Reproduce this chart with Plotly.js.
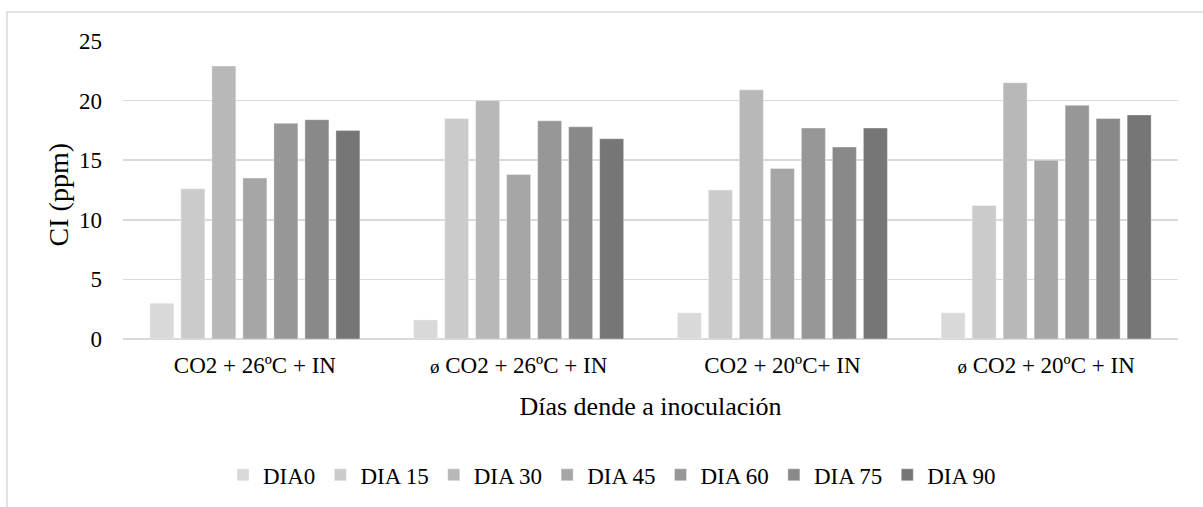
<!DOCTYPE html>
<html>
<head>
<meta charset="utf-8">
<script src="https://cdn.plot.ly/plotly-3.0.1.min.js"></script>
<style>
  html, body { margin: 0; padding: 0; background: #ffffff; }
  #chart { width: 1203px; height: 507px; }
</style>
</head>
<body>
<div id="chart"></div>
<script>
// Treatments (x categories)
const treatments = [
  "CO2 + 26ºC + IN",
  "<span style=\"font-size:19px\">ø</span> CO2 + 26ºC + IN",
  "CO2 + 20ºC+ IN",
  "<span style=\"font-size:19px\">ø</span> CO2 + 20ºC + IN"
];

// Sampling days (series)
const days = ["DIA0", "DIA 15", "DIA 30", "DIA 45", "DIA 60", "DIA 75", "DIA 90"];

// CI (ppm) per day, one value per treatment
const dia0  = [3.0, 1.6, 2.2, 2.2];
const dia15 = [12.6, 18.5, 12.5, 11.2];
const dia30 = [22.9, 20.0, 20.9, 21.5];
const dia45 = [13.5, 13.8, 14.3, 15.0];
const dia60 = [18.1, 18.3, 17.7, 19.6];
const dia75 = [18.4, 17.8, 16.1, 18.5];
const dia90 = [17.5, 16.8, 17.7, 18.8];

const seriesValues = [dia0, dia15, dia30, dia45, dia60, dia75, dia90];
const greys = ["#d9d9d9", "#cbcbcb", "#b8b8b8", "#a6a6a6", "#979797", "#898989", "#767676"];

const serif = "'Liberation Serif', 'Times New Roman', serif";

const traces = days.map((d, i) => ({
  type: "bar",
  name: d,
  x: treatments,
  y: seriesValues[i],
  marker: { color: greys[i], line: { color: "rgba(255,255,255,0.35)", width: 1 } },
  hoverinfo: "name+y"
}));

const layout = {
  width: 1203,
  height: 507,
  margin: { l: 123, r: 25, t: 41, b: 167 },
  paper_bgcolor: "#ffffff",
  plot_bgcolor: "#ffffff",
  font: { family: serif, color: "#000000", size: 23 },
  barmode: "group",
  bargap: 0.177,
  bargroupgap: 0.226,
  showlegend: true,
  legend: {
    orientation: "h",
    x: 0.4635, xanchor: "center",
    y: -0.451, yanchor: "middle",
    font: { family: serif, size: 23, color: "#000000" },
    itemwidth: 30,
    traceorder: "normal"
  },
  xaxis: {
    type: "category",
    showgrid: false,
    showline: false,
    zeroline: false,
    ticks: "",
    ticklabelstandoff: 10,
    tickfont: { family: serif, size: 23, color: "#000000" },
    title: { text: "Días dende a inoculación", font: { family: serif, size: 26, color: "#000000" }, standoff: 19 }
  },
  yaxis: {
    range: [0, 25],
    dtick: 5,
    tick0: 0,
    showgrid: true,
    gridcolor: "#d9d9d9",
    gridwidth: 1.5,
    zeroline: true,
    zerolinecolor: "#d9d9d9",
    zerolinewidth: 1.5,
    showline: false,
    ticks: "",
    ticklabelstandoff: 20,
    tickfont: { family: serif, size: 23, color: "#000000" }
  },
  annotations: [{
    // y-axis title, placed beside the tick labels
    text: "CI (ppm)",
    textangle: -90,
    xref: "paper", yref: "paper",
    x: -0.0607, y: 0.485,
    xanchor: "center", yanchor: "middle",
    showarrow: false,
    font: { family: serif, size: 28, color: "#000000" }
  }],
  shapes: [{
    type: "rect",
    xref: "paper", yref: "paper",
    x0: -0.110, x1: 1.05,
    y0: -0.6, y1: 1.097,
    line: { color: "#d9d9d9", width: 1.5 },
    fillcolor: "rgba(0,0,0,0)",
    layer: "below"
  }]
};

Plotly.newPlot("chart", traces, layout, { displayModeBar: false, staticPlot: true });
</script>
</body>
</html>
